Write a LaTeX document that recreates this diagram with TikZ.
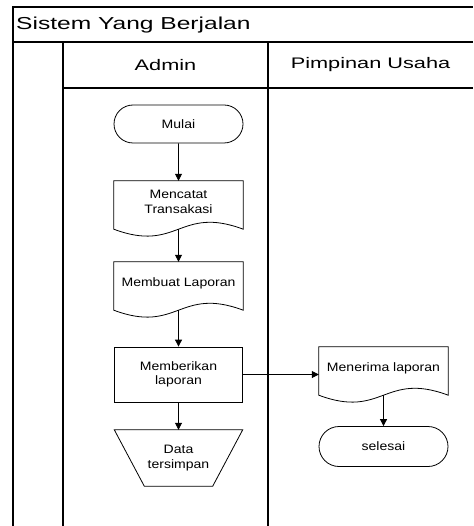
\documentclass[tikz,border=0pt]{standalone}
\usepackage{fontspec}
\setmainfont{Liberation Sans}[FakeStretch=1.15]
\newfontfamily\judulfont{Liberation Sans}[FakeStretch=1.42]
\usepackage{tikz}
\usetikzlibrary{arrows.meta}
\usetikzlibrary{positioning}
\usetikzlibrary{shapes.misc}

\begin{document}
\begin{tikzpicture}[x=1pt, y=-1pt,
        >={Triangle[length=7pt,width=7pt]},
        on grid,
        font=\fontsize{12.2}{14.5}\selectfont,
        frame/.style={line width=1.3pt},
        link/.style={->, line width=0.8pt},
        outline/.style={line width=0.8pt},
        terminal/.style={rounded rectangle, draw, line width=0.8pt, minimum width=129pt, minimum height=38pt, inner sep=0pt},
        proses/.style={rectangle, draw, line width=0.8pt, minimum width=128pt, minimum height=55pt, inner sep=0pt, align=center},
        dokumen/.style={rectangle, minimum width=129pt, minimum height=42pt, inner sep=0pt, align=center},
        simpan/.style={rectangle, minimum width=128pt, minimum height=56pt, inner sep=0pt, align=center},
        judul/.style={font=\judulfont\fontsize{15.3}{18}\selectfont}]

      \useasboundingbox (0,0) rectangle (473,526);

      % swimlane frame
      \draw[frame] (13,526) -- (13,7) -- (473,7);
      \draw[frame] (13,42) -- (473,42);
      \draw[frame] (63,526) -- (63,42);
      \draw[frame] (268,526) -- (268,42);
      \draw[frame] (63,88) -- (473,88);

      \node[judul, font=\judulfont\fontsize{17.3}{20}\selectfont, anchor=west, inner sep=0pt] (sistem) at (16,25) {Sistem Yang Berjalan};
      \node[judul] (admin)    at (165.5,65) {Admin};
      \node[judul] (pimpinan) at (370.5,65) {Pimpinan Usaha};

      % admin lane
      \node[terminal] (mulai) at (178.5,124) {Mulai};
      \node[dokumen]  (catat) [below=78pt of mulai] {Mencatat\\Transakasi};
      \node[dokumen]  (buat)  [below=81pt of catat] {Membuat Laporan};
      \node[proses]   (beri)  [below=91.5pt of buat] {Memberikan\\laporan};
      \node[simpan]   (data)  [below=83.5pt of beri] {Data\\tersimpan};

      % pimpinan lane
      \node[dokumen]  (terima)  [above right=6.5pt and 205pt of beri] {Menerima laporan};
      \node[terminal, minimum height=40pt] (selesai) [below=78.5pt of terima] {selesai};

      \foreach \n in {catat, buat, terima}
        \draw[outline] (\n.north west) -- (\n.north east) -- ([yshift=-6pt]\n.south east)
          .. controls +(-64pt,24pt) and +(64pt,-24pt) .. ([yshift=-6pt]\n.south west) -- cycle;

      \draw[outline] (data.north west) -- (data.north east) -- ([xshift=-30pt]data.south east)
        -- ([xshift=30pt]data.south west) -- cycle;

      \path[link]
      (mulai) edge (catat.north)
      ([yshift=-6pt]catat.south) edge (buat.north)
      ([yshift=-6pt]buat.south) edge (beri)
      (beri) edge (data)
      (beri) edge (beri -| terima.west)
      ([yshift=-6pt]terima.south) edge (selesai);

\end{tikzpicture}
\end{document}
